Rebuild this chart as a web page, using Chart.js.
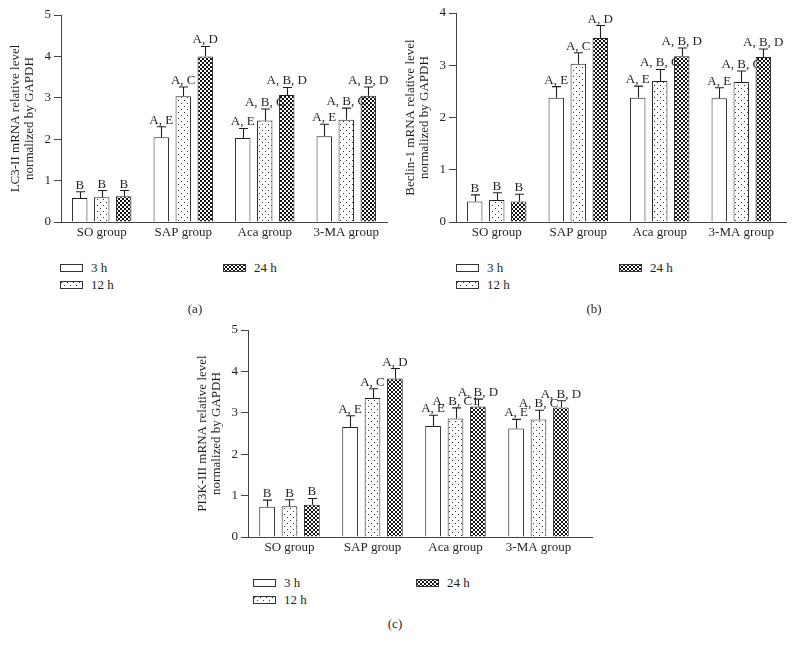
<!DOCTYPE html>
<html>
<head>
<meta charset="utf-8">
<script src="https://cdn.jsdelivr.net/npm/chart.js@4.4.1/dist/chart.umd.min.js"></script>
<style>
  html, body { margin: 0; padding: 0; background: #fff; }
  #page { position: relative; width: 792px; height: 648px; overflow: hidden;
          font-family: "Liberation Serif", "DejaVu Serif", serif; color: #231f20; }
  canvas.chart { position: absolute; }
  .legend-item { position: absolute; font-size: 13px; line-height: 15px; white-space: nowrap; }
  .legend-item canvas { position: absolute; left: 0; top: 4px; }
  .legend-item span { position: absolute; left: 31px; top: 0; }
  .tag { position: absolute; font-size: 13px; transform: translate(-50%, -50%); }
</style>
</head>
<body>
<div id="page">
  <canvas id="chartA" class="chart" width="396" height="245" style="left:0;top:0"></canvas>
  <canvas id="chartB" class="chart" width="396" height="245" style="left:395px;top:0"></canvas>
  <canvas id="chartC" class="chart" width="420" height="245" style="left:187px;top:315px"></canvas>
</div>
<script>
// categories and series
const groups = ['SO group', 'SAP group', 'Aca group', '3-MA group'];
const times = ['3 h', '12 h', '24 h'];

// (a) LC3-II, rows = 3 h, 12 h, 24 h
const lc3Mean = [[0.58, 2.05, 2.03, 2.07], [0.60, 3.04, 2.45, 2.47], [0.62, 4.00, 3.07, 3.05]];
const lc3Err = [[0.15, 0.25, 0.23, 0.29], [0.16, 0.22, 0.28, 0.28], [0.14, 0.24, 0.18, 0.21]];
const lc3Sig = [['B', 'A, E', 'A, E', 'A, E'], ['B', 'A, C', 'A, B, C', 'A, B, C'], ['B', 'A, D', 'A, B, D', 'A, B, D']];

// (b) Beclin-1
const beclinMean = [[0.39, 2.38, 2.38, 2.37], [0.42, 3.03, 2.70, 2.68], [0.39, 3.52, 3.17, 3.16]];
const beclinErr = [[0.13, 0.21, 0.22, 0.20], [0.14, 0.21, 0.22, 0.21], [0.14, 0.24, 0.16, 0.15]];
const beclinSig = [['B', 'A, E', 'A, E', 'A, E'], ['B', 'A, C', 'A, B, C', 'A, B, C'], ['B', 'A, D', 'A, B, D', 'A, B, D']];

// (c) PI3K-III
const pi3kMean = [[0.73, 2.66, 2.68, 2.62], [0.74, 3.36, 2.86, 2.84], [0.78, 3.83, 3.15, 3.13]];
const pi3kErr = [[0.16, 0.27, 0.26, 0.22], [0.16, 0.22, 0.26, 0.22], [0.15, 0.24, 0.18, 0.16]];
const pi3kSig = [['B', 'A, E', 'A, E', 'A, E'], ['B', 'A, C', 'A, B, C1', 'A, B, C'], ['B', 'A, D', 'A, B, D', 'A, B, D']];

const ink = '#231f20';
const serif = '"Liberation Serif", "DejaVu Serif", serif';

function makePattern(kind) {
  const c = document.createElement('canvas');
  const g = c.getContext('2d');
  if (kind === 'dots') {
    c.width = 6; c.height = 6;
    g.fillStyle = '#fff'; g.fillRect(0, 0, 6, 6);
    g.fillStyle = '#333'; g.fillRect(1, 1, 1, 1); g.fillRect(4, 4, 1, 1);
  } else {
    // small checkerboard
    c.width = 4; c.height = 4;
    g.fillStyle = '#fff'; g.fillRect(0, 0, 4, 4);
    g.fillStyle = '#111'; g.fillRect(0, 0, 2, 2); g.fillRect(2, 2, 2, 2);
  }
  return g.createPattern(c, 'repeat');
}
const fills = ['#ffffff', makePattern('dots'), makePattern('check')];

// whisker + significance letters above each bar
const errorBars = {
  id: 'errorBars',
  afterDatasetsDraw(chart) {
    const ctx = chart.ctx;
    const y = chart.scales.y;
    ctx.save();
    ctx.strokeStyle = ink;
    ctx.fillStyle = ink;
    ctx.lineWidth = 1.1;
    ctx.font = '13px ' + serif;
    ctx.textAlign = 'center';
    ctx.textBaseline = 'alphabetic';
    chart.data.datasets.forEach((ds, i) => {
      chart.getDatasetMeta(i).data.forEach((bar, j) => {
        const top = y.getPixelForValue(ds.data[j] + ds.errors[j]);
        const x = Math.round(bar.x) + 0.5;
        ctx.beginPath();
        ctx.moveTo(x, bar.y);
        ctx.lineTo(x, top);
        ctx.moveTo(x - 4.5, top);
        ctx.lineTo(x + 4.5, top);
        ctx.stroke();
        ctx.fillText(ds.sig[j], bar.x, top - 3);
      });
    });
    ctx.restore();
  }
};

// x axis line runs a little past the last group in some panels
const axisExt = {
  id: 'axisExt',
  afterDraw(chart, args, opts) {
    if (!opts.length) return;
    const {ctx, chartArea} = chart;
    ctx.save();
    ctx.strokeStyle = '#444';
    ctx.lineWidth = 1;
    ctx.beginPath();
    ctx.moveTo(chartArea.right, Math.round(chartArea.bottom) + 0.5);
    ctx.lineTo(chartArea.right + opts.length, Math.round(chartArea.bottom) + 0.5);
    ctx.stroke();
    ctx.restore();
  }
};

function makeChart(id, means, errs, sigs, yMax, yTitle, pad, ext) {
  return new Chart(document.getElementById(id), {
    type: 'bar',
    data: {
      labels: groups,
      datasets: times.map((t, i) => ({
        label: t,
        data: means[i],
        errors: errs[i],
        sig: sigs[i],
        backgroundColor: fills[i],
        borderColor: ink,
        borderWidth: 1,
        barPercentage: 0.7,
        categoryPercentage: 0.81
      }))
    },
    options: {
      responsive: false,
      animation: false,
      layout: { padding: pad },
      plugins: {
        legend: { display: false },
        tooltip: { enabled: false },
        axisExt: { length: ext }
      },
      scales: {
        x: {
          grid: { display: false, drawTicks: false },
          border: { display: true, color: '#444', width: 1 },
          ticks: { color: ink, font: { family: serif, size: 13 }, padding: 3 },
          afterFit: s => { s.height = 20; }
        },
        y: {
          min: 0,
          max: yMax,
          ticks: { stepSize: 1, padding: 3, color: ink, font: { family: serif, size: 13 } },
          grid: { drawOnChartArea: false, drawTicks: true, tickLength: 7, color: '#444' },
          border: { display: true, color: '#444', width: 1 },
          title: {
            display: true,
            text: yTitle,
            color: ink,
            font: { family: serif, size: 13, lineHeight: 1.1 },
            padding: { top: 8, bottom: 0 }
          },
          afterFit: s => { s.width = 61; }
        }
      }
    },
    plugins: [errorBars, axisExt]
  });
}

makeChart('chartA', lc3Mean, lc3Err, lc3Sig, 5,
  ['LC3-II mRNA relative level', 'normalized by GAPDH'], { top: 15, right: 9, bottom: 3, left: 0 }, 0);
makeChart('chartB', beclinMean, beclinErr, beclinSig, 4,
  ['Beclin-1 mRNA relative level', 'normalized by GAPDH'], { top: 13, right: 9, bottom: 3, left: 0 }, 5);
makeChart('chartC', pi3kMean, pi3kErr, pi3kSig, 5,
  ['PI3K-III mRNA relative level', 'normalized by GAPDH'], { top: 15, right: 27, bottom: 3, left: 0 }, 13);

// legends and panel tags
const page = document.getElementById('page');
function addLegend(x0, y0) {
  const spots = [[x0, y0], [x0, y0 + 17], [x0 + 163, y0]];
  times.forEach((t, i) => {
    const item = document.createElement('div');
    item.className = 'legend-item';
    item.style.left = spots[i][0] + 'px';
    item.style.top = (spots[i][1] - 4) + 'px';
    const sw = document.createElement('canvas');
    sw.width = 23; sw.height = 8;
    const g = sw.getContext('2d');
    g.fillStyle = fills[i];
    g.fillRect(0, 0, 23, 8);
    g.strokeStyle = '#333';
    g.lineWidth = 1;
    g.strokeRect(0.5, 0.5, 22, 7);
    const label = document.createElement('span');
    label.textContent = t;
    item.appendChild(sw);
    item.appendChild(label);
    page.appendChild(item);
  });
}
function addTag(text, x, y) {
  const d = document.createElement('div');
  d.className = 'tag';
  d.style.left = x + 'px';
  d.style.top = y + 'px';
  d.textContent = text;
  page.appendChild(d);
}
addLegend(60, 264);
addLegend(456, 264);
addLegend(253, 579);
addTag('(a)', 195, 309);
addTag('(b)', 594, 309);
addTag('(c)', 395, 624);
</script>
</body>
</html>
